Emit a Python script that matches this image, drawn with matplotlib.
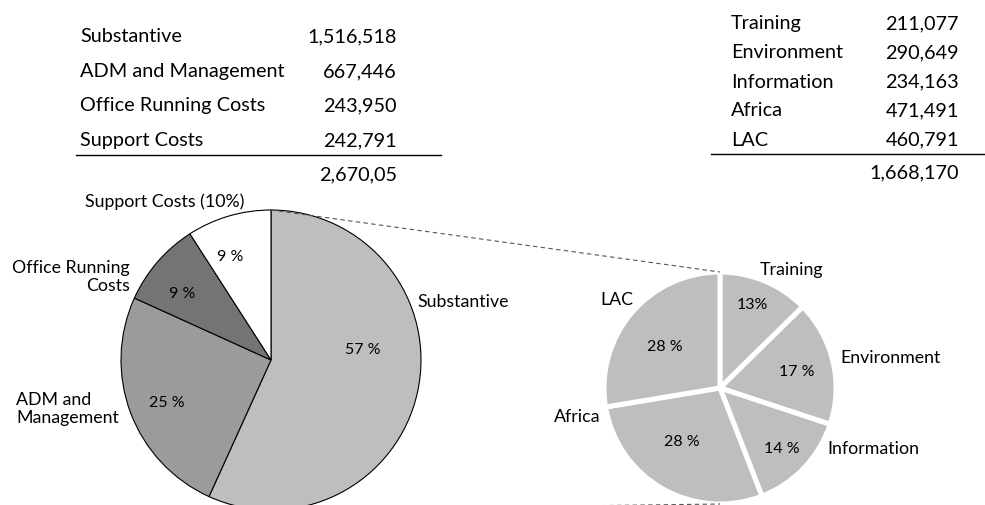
import matplotlib
matplotlib.use("Agg")
import matplotlib.pyplot as plt

plt.rcParams['font.family'] = ['Lato', 'DejaVu Sans']

# left pie / table
main_labels = ["Substantive", "ADM and Management", "Office Running Costs", "Support Costs"]
main_values = [1516518, 667446, 243950, 242791]
main_total = "2,670,05"
main_colors = ["#bebebe", "#9b9b9b", "#747474", "#ffffff"]

# right pie / table (breakdown of substantive)
sub_labels = ["Training", "Environment", "Information", "Africa", "LAC"]
sub_values = [211077, 290649, 234163, 471491, 460791]
sub_total = "1,668,170"
sub_color = "#bebebe"

W, H = 985, 505
fig = plt.figure(figsize=(W / 100, H / 100), dpi=100)
ax = fig.add_axes([0, 0, 1, 1])


def Y(y):
    # image row -> data y
    return H - y


def fmt(v):
    return f"{v:,}"


fs_tab = 14.3
# left table
for i, (lab, val) in enumerate(zip(main_labels, main_values)):
    y = Y(37 + i * 34.5)
    ax.text(80, y, lab, fontsize=fs_tab, ha="left", va="center")
    ax.text(397, y, fmt(val), fontsize=fs_tab, ha="right", va="center")
ax.plot([76, 441], [Y(155), Y(155)], color="black", lw=1)
ax.text(397, Y(175), main_total, fontsize=fs_tab, ha="right", va="center")

# right table
for i, (lab, val) in enumerate(zip(sub_labels, sub_values)):
    y = Y(24 + i * 29)
    ax.text(731, y, lab, fontsize=fs_tab, ha="left", va="center")
    ax.text(959, y, fmt(val), fontsize=fs_tab, ha="right", va="center")
ax.plot([711, 985], [Y(154), Y(154)], color="black", lw=1)
ax.text(959, Y(173), sub_total, fontsize=fs_tab, ha="right", va="center")

# left pie
c1, r1 = (271, Y(360)), 150
ax.pie(main_values, colors=main_colors, startangle=90, counterclock=False,
       center=c1, radius=r1, frame=True,
       wedgeprops=dict(edgecolor="black", linewidth=0.8))

# right pie
c2, r2 = (720, Y(388)), 116
ax.pie(sub_values, colors=[sub_color] * len(sub_values), startangle=90,
       counterclock=False, center=c2, radius=r2, frame=True,
       wedgeprops=dict(edgecolor="white", linewidth=3.6))
ax.set_xlim(0, W)
ax.set_ylim(0, H)
ax.set_aspect("equal")
ax.axis("off")

# connector lines
ax.plot([c1[0], c2[0]], [c1[1] + r1, c2[1] + r2], ls=(0, (4, 3)),
        color="#555555", lw=0.8)
ax.plot([c1[0], c2[0]], [c1[1] - r1, c2[1] - r2], ls=(0, (4, 3)),
        color="#555555", lw=0.8)

pm = [round(v / sum(main_values) * 100) for v in main_values]
ps = [round(v / sum(sub_values) * 100) for v in sub_values]

fs_lab = 12.8
fs_pct = 11.5
# left pie labels
ax.text(165, Y(202), "Support Costs (10%)", fontsize=fs_lab, ha="center", va="center")
ax.text(130, Y(277), "Office Running\nCosts", fontsize=fs_lab, ha="right", va="center",
        linespacing=1.2)
ax.text(417, Y(302), main_labels[0], fontsize=fs_lab, ha="left", va="center")
ax.text(16, Y(409), "ADM and\nManagement", fontsize=fs_lab, ha="left", va="center",
        linespacing=1.2)
ax.text(363, Y(350), f"{pm[0]} %", fontsize=fs_pct, ha="center", va="center")
ax.text(167, Y(403), f"{pm[1]} %", fontsize=fs_pct, ha="center", va="center")
ax.text(182, Y(294), f"{pm[2]} %", fontsize=fs_pct, ha="center", va="center")
ax.text(230, Y(257), f"{pm[3]} %", fontsize=fs_pct, ha="center", va="center")

# right pie labels
ax.text(792, Y(270), sub_labels[0], fontsize=fs_lab, ha="center", va="center")
ax.text(840, Y(358), sub_labels[1], fontsize=fs_lab, ha="left", va="center")
ax.text(827, Y(449), sub_labels[2], fontsize=fs_lab, ha="left", va="center")
ax.text(600, Y(417), sub_labels[3], fontsize=fs_lab, ha="right", va="center")
ax.text(617, Y(300), sub_labels[4], fontsize=fs_lab, ha="center", va="center")
ax.text(752, Y(305), f"{ps[0]}%", fontsize=fs_pct, ha="center", va="center")
ax.text(797, Y(372), f"{ps[1]} %", fontsize=fs_pct, ha="center", va="center")
ax.text(782, Y(449), f"{ps[2]} %", fontsize=fs_pct, ha="center", va="center")
ax.text(682, Y(442), f"{ps[3]} %", fontsize=fs_pct, ha="center", va="center")
ax.text(665, Y(347), f"{ps[4]} %", fontsize=fs_pct, ha="center", va="center")

fig.savefig("out.png", dpi=100)
